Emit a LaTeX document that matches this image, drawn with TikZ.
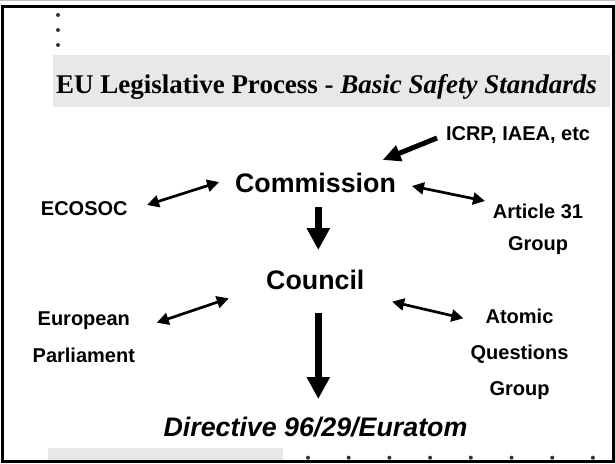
\documentclass[tikz,border=0pt]{standalone}
\usepackage{fontspec}
\setmainfont{Liberation Serif}
\newfontfamily\arialfont{Liberation Sans}
\usetikzlibrary{arrows.meta, calc}
\definecolor{bandgray}{RGB}{232,232,232}

\begin{document}
\begin{tikzpicture}[x=1pt, y=-1pt,
    lbl/.style={inner sep=0, outer sep=0, align=center},
    biglbl/.style={inner sep=0, outer sep=0, font=\arialfont\bfseries\fontsize{26.8}{32}\selectfont},
    twoway/.style={line width=2.7pt, {Triangle[length=12pt,width=12pt]}-{Triangle[length=12pt,width=12pt]}},
    bigarrow/.style={line width=6.7pt, -{Triangle[length=22pt,width=22pt]}},
    feedarrow/.style={line width=5pt, -{Triangle[length=18pt,width=16pt]}},
    dot/.style={circle, fill=black!80, inner sep=0, minimum size=4pt}]
    \useasboundingbox (0,0) rectangle (615,463);

    % Title band and bottom band
    \fill[bandgray] (53,55) rectangle (610,107);
    \fill[bandgray] (48,447.7) rectangle (283,460);
    \draw[gray!50, line width=1.5pt] (0,0.7) -- (615,0.7);
    % Slide frame
    \draw[line width=3pt] (2.5,6.5) rectangle (613.5,461.5);

    % Bullet dots
    \foreach \y in {15,30,45}
        \node[dot] (tdot\y) at (58,\y) {};
    \foreach \i in {0,...,7}
        \node[dot] (bdot\i) at (308+40.7*\i,457.7) {};

    % Title
    \node[lbl, anchor=base west, font=\bfseries\fontsize{27}{32}\selectfont] (title) at (56,93.3)
        {EU Legislative Process - \textit{Basic Safety Standards}};

    % Main bodies
    \node[biglbl, anchor=base] (comm) at (315.5,192.7) {Commission};
    \node[biglbl, anchor=base] (coun) at (315.3,289.3) {Council};
    \node[biglbl, anchor=base, font=\arialfont\bfseries\itshape\fontsize{26.8}{32}\selectfont] (dir) at (315.5,436.7) {Directive 96/29/Euratom};

    % Side groups
    \node[lbl, anchor=base west, font=\arialfont\bfseries\fontsize{20}{24}\selectfont] (icrp) at (446,140.5) {ICRP, IAEA, etc};
    \node[lbl, anchor=base, font=\arialfont\bfseries\fontsize{20}{24}\selectfont] (ecosoc) at (84.3,215.7) {ECOSOC};
    \node[lbl, anchor=north, font=\arialfont\bfseries\fontsize{20}{32.5}\selectfont] (art) at (538,204) {Article 31\\Group};
    \node[lbl, anchor=north, font=\arialfont\bfseries\fontsize{20}{36.7}\selectfont] (eur) at (83.8,311.7) {European\\Parliament};
    \node[lbl, anchor=north, font=\arialfont\bfseries\fontsize{20}{36.2}\selectfont] (atom) at (519.5,309) {Atomic\\Questions\\Group};

    % Advice coming in
    \draw[feedarrow] ($(icrp.base west)+(-9,-2.5)$) -- ($(comm.base east)+(-13.3,-32.7)$);

    % Consultations
    \draw[twoway] ($(ecosoc.base east)+(19.4,-10.7)$) -- ($(comm.base west)+(-16,-10.7)$);
    \draw[twoway] ($(comm.base east)+(16,-6.7)$) -- ($(art.north west)+(-8,-3)$);
    \draw[twoway] ($(eur.north east)+(21.8,11)$) -- ($(coun.base west)+(-37.4,9)$);
    \draw[twoway] ($(coun.base east)+(27.7,12.4)$) -- ($(atom.north west)+(-7.2,9.3)$);

    % Main line of adoption
    \draw[bigarrow] ($(comm.base)+(2.8,14.3)$) -- ($(coun.base)+(3,-39.3)$);
    \draw[bigarrow] ($(coun.base)+(3,23.7)$) -- ($(dir.base)+(2.8,-37.7)$);
\end{tikzpicture}
\end{document}
